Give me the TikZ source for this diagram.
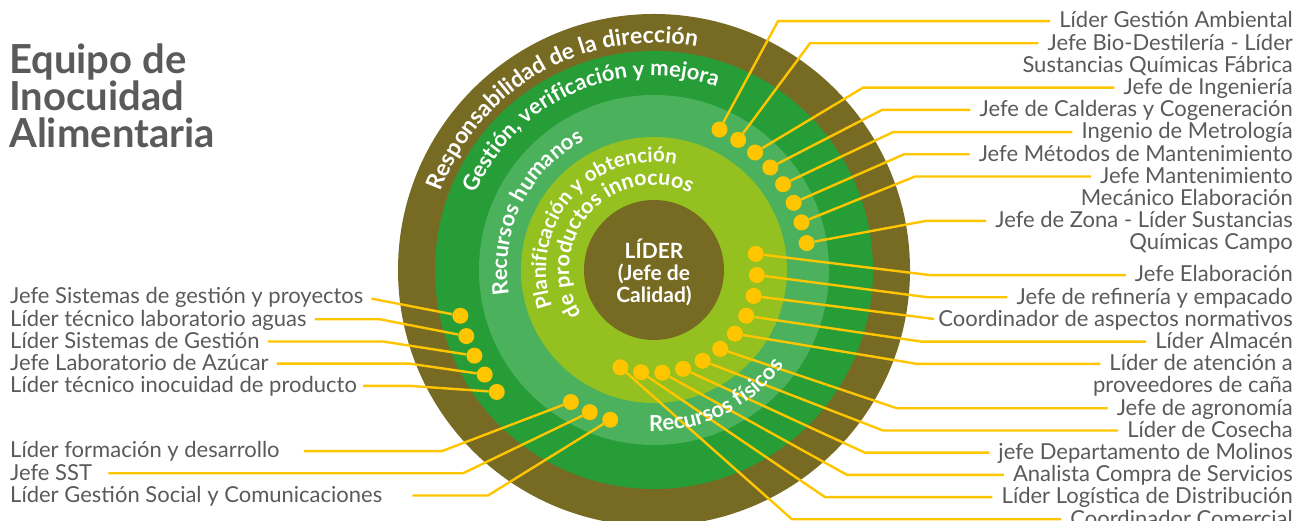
\documentclass[tikz,border=0pt]{standalone}
\usepackage{fontspec}
\setmainfont{Lato}
\usetikzlibrary{positioning, calc, decorations.text}

\definecolor{ringbrown}{HTML}{776B24}
\definecolor{ringgreen}{HTML}{279D38}
\definecolor{ringmid}{HTML}{4CB15C}
\definecolor{ringlime}{HTML}{94C11F}
\definecolor{dotyellow}{HTML}{FFC600}
\definecolor{labelgray}{HTML}{5A5A5C}

\begin{document}
\begin{tikzpicture}[x=1pt, y=1pt,
    lbl/.style={text=labelgray, font=\fontsize{22}{22}\selectfont, inner xsep=0pt, inner ysep=1pt, text height=16.8pt, text depth=3pt},
    member/.style={circle, fill=dotyellow, inner sep=0pt, minimum size=16pt},
    conn/.style={dotyellow, line width=2.4pt},
    ringtext/.style 2 args={decorate, decoration={text along path, text align=center, text color=white,
        text={|\fontsize{#1}{#1}\selectfont\bfseries|#2}}}]
  \useasboundingbox (0,0) rectangle (1296,521);
  \clip (0,0) rectangle (1296,521);
  \coordinate (C) at (654,251);

  % rings
  \fill[ringbrown] (C) circle[radius=256pt];
  \fill[ringgreen] (C) circle[radius=219pt];
  \fill[ringmid]   (C) circle[radius=175pt];
  \fill[ringlime]  (C) circle[radius=133pt];
  \fill[ringbrown] (C) circle[radius=70pt];

  \node[anchor=north west, align=left, inner sep=0pt, text=labelgray,
        font=\fontsize{40}{37}\selectfont\bfseries] (title) at (9,477) {Equipo de\\Inocuidad\\Alimentaria};
  \node[align=center, text=white, font=\fontsize{21}{22}\selectfont\bfseries] (lider) at ($(C)+(0,-2)$) {LÍDER\\(Jefe de\\Calidad)};

  % dots
  \foreach \i/\a in {1/65, 2/57.1, 3/49.3, 4/41.4, 5/33.6, 6/25.7, 7/17.9, 8/10}
    \node[member] (d\i) at ($(C)+(\a:155pt)$) {};
  \foreach \i/\a in {1/9, 2/-2.8, 3/-14.6, 4/-26.4, 5/-38.2, 6/-50, 7/-61.8, 8/-73.6, 9/-85.4, 10/-97.2, 11/-109}
    \node[member] (e\i) at ($(C)+(\a:103pt)$) {};
  \foreach \i/\a in {1/193.3, 2/199.4, 3/205.5, 4/211.7, 5/217.8}
    \node[member] (f\i) at ($(C)+(\a:199pt)$) {};
  \foreach \i/\a in {1/237.8, 2/245.7, 3/253.7}
    \node[member] (g\i) at ($(C)+(\a:156pt)$) {};

  % right labels
  \node[lbl, anchor=base east] (lamb) at (1293,493) {Líder Gestión Ambiental};
  \node[lbl, below=0pt of lamb.south east, anchor=north east] (lbio) {Jefe Bio-Destilería - Líder};
  \node[lbl, below=0pt of lbio.south east, anchor=north east] (lbiob) {Sustancias Químicas Fábrica};
  \node[lbl, below=0pt of lbiob.south east, anchor=north east] (ling) {Jefe de Ingeniería};
  \node[lbl, below=0pt of ling.south east, anchor=north east] (lcald) {Jefe de Calderas y Cogeneración};
  \node[lbl, below=0pt of lcald.south east, anchor=north east] (lmetr) {Ingenio de Metrología};
  \node[lbl, below=0pt of lmetr.south east, anchor=north east] (lmet) {Jefe Métodos de Mantenimiento};
  \node[lbl, below=0pt of lmet.south east, anchor=north east] (lmant) {Jefe Mantenimiento};
  \node[lbl, below=0pt of lmant.south east, anchor=north east] (lmantb) {Mecánico Elaboración};
  \node[lbl, below=0pt of lmantb.south east, anchor=north east] (lzona) {Jefe de Zona - Líder Sustancias};
  \node[lbl, below=0pt of lzona.south east, anchor=north east] (lzonab) {Químicas Campo};

  \node[lbl, anchor=base east] (lelab) at (1293,239) {Jefe Elaboración};
  \node[lbl, below=0pt of lelab.south east, anchor=north east] (lref) {Jefe de refinería y empacado};
  \node[lbl, below=0pt of lref.south east, anchor=north east] (lnorm) {Coordinador de aspectos normativos};
  \node[lbl, below=0pt of lnorm.south east, anchor=north east] (lalm) {Líder Almacén};
  \node[lbl, below=0pt of lalm.south east, anchor=north east] (lprov) {Líder de atención a};
  \node[lbl, below=0pt of lprov.south east, anchor=north east] (lprovb) {proveedores de caña};
  \node[lbl, below=0pt of lprovb.south east, anchor=north east] (lagro) {Jefe de agronomía};
  \node[lbl, below=0pt of lagro.south east, anchor=north east] (lcos) {Líder de Cosecha};
  \node[lbl, below=0pt of lcos.south east, anchor=north east] (lmol) {jefe Departamento de Molinos};
  \node[lbl, below=0pt of lmol.south east, anchor=north east] (lserv) {Analista Compra de Servicios};
  \node[lbl, below=0pt of lserv.south east, anchor=north east] (llog) {Líder Logística de Distribución};
  \node[lbl, below=0pt of llog.south east, anchor=north east] (lcom) {Coordinador Comercial};

  % left labels
  \node[lbl, anchor=base west] (lsis) at (10,217) {Jefe Sistemas de gestión y proyectos};
  \node[lbl, below=0pt of lsis.south west, anchor=north west] (lagu) {Líder técnico laboratorio aguas};
  \node[lbl, below=0pt of lagu.south west, anchor=north west] (lsg) {Líder Sistemas de Gestión};
  \node[lbl, below=0pt of lsg.south west, anchor=north west] (lazu) {Jefe Laboratorio de Azúcar};
  \node[lbl, below=0pt of lazu.south west, anchor=north west] (lino) {Líder técnico inocuidad de producto};

  \node[lbl, anchor=base west] (lform) at (10,63) {Líder formación y desarrollo};
  \node[lbl, below=0pt of lform.south west, anchor=north west] (lsst) {Jefe SST};
  \node[lbl, below=0pt of lsst.south west, anchor=north west] (lsoc) {Líder Gestión Social y Comunicaciones};

  % connectors
  \draw[conn, shorten >=9pt] (d1) -- (778,0 |- lamb.west) -- (lamb.west);
  \draw[conn, shorten >=9pt] (d2) -- (810,0 |- lbio.west) -- (lbio.west);
  \draw[conn, shorten >=9pt] (d3) -- (863,0 |- ling.west) -- (ling.west);
  \draw[conn, shorten >=9pt] (d4) -- (882,0 |- lcald.west) -- (lcald.west);
  \draw[conn, shorten >=9pt] (d5) -- (893,0 |- lmetr.west) -- (lmetr.west);
  \draw[conn, shorten >=9pt] (d6) -- (904,0 |- lmet.west) -- (lmet.west);
  \draw[conn, shorten >=9pt] (d7) -- (915,0 |- lmant.west) -- (lmant.west);
  \draw[conn, shorten >=9pt] (d8) -- (926,0 |- lzona.west) -- (lzona.west);

  \draw[conn, shorten >=9pt] (e1) -- (930,0 |- lelab.west) -- (lelab.west);
  \draw[conn, shorten >=9pt] (e2) -- (928,0 |- lref.west) -- (lref.west);
  \draw[conn, shorten >=4pt] (e3) -- (lnorm.west);
  \draw[conn, shorten >=9pt] (e4) -- (922,0 |- lalm.west) -- (lalm.west);
  \draw[conn, shorten >=9pt] (e5) -- (917,0 |- lprov.west) -- (lprov.west);
  \draw[conn, shorten >=9pt] (e6) -- (897,0 |- lagro.west) -- (lagro.west);
  \draw[conn, shorten >=9pt] (e7) -- (883,0 |- lcos.west) -- (lcos.west);
  \draw[conn, shorten >=9pt] (e8) -- (865,0 |- lmol.west) -- (lmol.west);
  \draw[conn, shorten >=9pt] (e9) -- (847,0 |- lserv.west) -- (lserv.west);
  \draw[conn, shorten >=9pt] (e10) -- (825,0 |- llog.west) -- (llog.west);
  \draw[conn, shorten >=9pt] (e11) -- (792,0 |- lcom.west) -- (lcom.west);

  \draw[conn, shorten <=8pt] (lsis.east) -- (f1);
  \draw[conn, shorten <=8pt] (lagu.east) -- (380,0 |- lagu.east) -- (f2);
  \draw[conn, shorten <=8pt] (lsg.east) -- (383,0 |- lsg.east) -- (f3);
  \draw[conn, shorten <=8pt] (lazu.east) -- (410,0 |- lazu.east) -- (f4);
  \draw[conn, shorten <=6pt] (lino.east) -- (410,0 |- lino.east) -- (f5);
  \draw[conn, shorten <=24pt] (lform.east) -- (442,0 |- lform.east) -- (g1);
  \draw[conn, shorten <=16pt] (lsst.east) -- (463,0 |- lsst.east) -- (g2);
  \draw[conn, shorten <=30pt] (lsoc.east) -- (488,0 |- lsoc.east) -- (g3);

  % ring texts
  \path[ringtext={23}{Responsabilidad de la dirección}] ($(C)+(172:227pt)$) arc[start angle=172, end angle=67, radius=227pt];
  \path[ringtext={22}{Gestión{,} verificación y mejora}] ($(C)+(166:194pt)$) arc[start angle=166, end angle=62, radius=194pt];
  \path[ringtext={22}{Recursos humanos}] ($(C)+(200:147pt)$) arc[start angle=200, end angle=108, radius=147pt];
  \path[ringtext={20.5}{Planificación y obtención}] ($(C)+(218:108pt)$) arc[start angle=218, end angle=60, radius=108pt];
  \path[ringtext={21.5}{de productos innocuos}] ($(C)+(228:85pt)$) arc[start angle=228, end angle=48, radius=85pt];
  \path[ringtext={22}{Recursos físicos}] ($(C)+(253:161pt)$) arc[start angle=253, end angle=339, radius=161pt];
\end{tikzpicture}
\end{document}
